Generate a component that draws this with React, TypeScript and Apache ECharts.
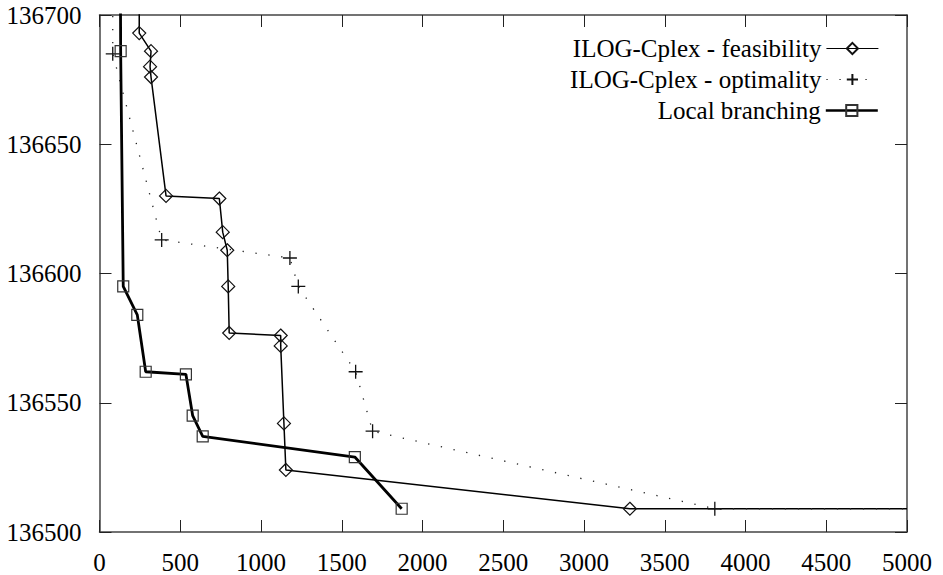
import React, { useEffect, useRef } from "react";
import * as echarts from "echarts";

// Axis ranges and ticks
const xMin = 0;
const xMax = 5000;
const xStep = 500;
const yMin = 136500;
const yMax = 136700;
const yStep = 50;

const seriesNames = [
  "ILOG-Cplex - feasibility",
  "ILOG-Cplex - optimality",
  "Local branching",
];

// ILOG-Cplex - feasibility (time, objective)
const feasX = [246, 246, 319, 313, 319, 412, 742, 763, 791, 797, 803, 1122, 1122, 1142, 1154, 3284, 5000];
const feasY = [136760, 136693, 136686, 136680, 136676, 136630, 136629, 136616, 136609, 136595, 136577, 136576, 136572, 136542, 136524, 136509, 136509];

// ILOG-Cplex - optimality
const optX = [82, 82, 385, 1179, 1231, 1586, 1691, 3810, 5000];
const optY = [136760, 136685, 136613, 136606, 136595, 136562, 136539, 136509, 136509];

// Local branching
const locX = [127, 131, 147, 234, 286, 535, 577, 639, 1581, 1871];
const locY = [136760, 136686, 136595, 136584, 136562, 136561, 136545, 136537, 136529, 136509];

const FONT = '"Liberation Serif", "DejaVu Serif", serif';

function toData(xs: number[], ys: number[]) {
  return xs.map((x, i) => {
    const y = ys[i];
    const hidden = y > yMax || x >= xMax;
    return hidden ? { value: [x, y], symbol: "none" } : { value: [x, y] };
  });
}

const axisCommon = {
  type: "value",
  axisLine: { show: true, onZero: false, lineStyle: { color: "#444", width: 1.5 } },
  axisTick: { show: true, inside: true, length: 12, lineStyle: { color: "#222", width: 1 } },
  splitLine: { show: false },
};

export default function App() {
  const ref = useRef<HTMLDivElement>(null);
  useEffect(() => {
    const chart = echarts.init(ref.current!, null, { renderer: "svg" });
    const legendTops = [36, 67, 98];
    const legendLineWidths = [1.2, 1.2, 2.4];
    const option: any = {
      animation: false,
      backgroundColor: "#fff",
      grid: { left: 99.5, right: 36, top: 15, bottom: 43, containLabel: false },
      xAxis: [
        {
          ...axisCommon,
          position: "bottom",
          min: xMin,
          max: xMax,
          interval: xStep,
          axisLabel: { color: "#000", fontSize: 25, fontFamily: FONT, margin: 18, formatter: (v: number) => String(v) },
        },
        {
          ...axisCommon,
          position: "top",
          min: xMin,
          max: xMax,
          interval: xStep,
          axisLabel: { show: false },
        },
      ],
      yAxis: [
        {
          ...axisCommon,
          position: "left",
          min: yMin,
          max: yMax,
          interval: yStep,
          axisLabel: { color: "#000", fontSize: 25, fontFamily: FONT, margin: 18, formatter: (v: number) => String(v) },
        },
        {
          ...axisCommon,
          position: "right",
          min: yMin,
          max: yMax,
          interval: yStep,
          axisLabel: { show: false },
        },
      ],
      legend: seriesNames.map((n, i) => ({
        data: [n],
        right: 64,
        top: legendTops[i],
        orient: "vertical",
        align: "right",
        itemWidth: 52,
        itemHeight: 14,
        padding: 0,
        lineStyle: { width: legendLineWidths[i] },
        textStyle: { fontSize: 25, fontFamily: FONT, color: "#000" },
      })),
      series: [
        {
          name: seriesNames[0],
          type: "line",
          clip: true,
          data: toData(feasX, feasY),
          symbol: "path://M0,-7L7,0L0,7L-7,0Z",
          symbolSize: 13,
          itemStyle: { color: "rgba(0,0,0,0)", borderColor: "#111", borderWidth: 1.2 },
          lineStyle: { color: "#000", width: 1.5 },
          z: 2,
        },
        {
          name: seriesNames[1],
          type: "line",
          clip: true,
          data: toData(optX, optY),
          symbol: "path://M-7,0L7,0M0,-7L0,7",
          symbolSize: 14,
          itemStyle: { color: "rgba(0,0,0,0)", borderColor: "#111", borderWidth: 1.3 },
          lineStyle: { color: "#222", width: 1.3, type: [1.3, 11.7] },
          z: 2,
        },
        {
          name: seriesNames[2],
          type: "line",
          clip: true,
          data: toData(locX, locY),
          symbol: "rect",
          symbolSize: 11,
          itemStyle: { color: "rgba(0,0,0,0)", borderColor: "#333", borderWidth: 1.2 },
          lineStyle: { color: "#000", width: 2.8 },
          z: 3,
        },
      ],
    };
    chart.setOption(option);
    return () => chart.dispose();
  }, []);
  return (
    <div
      ref={ref}
      style={{ position: "fixed", left: 0, top: 0, width: 943, height: 575, background: "#fff" }}
    />
  );
}
